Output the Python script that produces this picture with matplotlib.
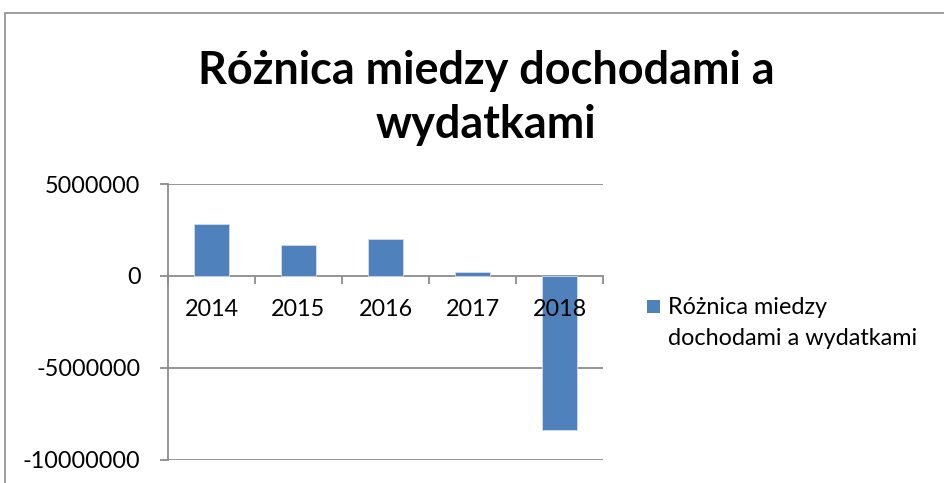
import matplotlib
matplotlib.use("Agg")
import matplotlib.pyplot as plt
from matplotlib.patches import Rectangle
import numpy as np

categories = ["2014", "2015", "2016", "2017", "2018"]
values = [2810000, 1700000, 2010000, 220000, -8370000]
series_name = "Różnica miedzy dochodami a wydatkami"
title = "Różnica miedzy dochodami a\nwydatkami"
yticks = [5000000, 0, -5000000, -10000000]

W, H = 945, 483
plt.rcParams['font.family'] = ['Lato', 'DejaVu Sans']
fig = plt.figure(figsize=(W/100, H/100), dpi=100)

# chart border
fig.patches.append(Rectangle((5/W, -0.1), 1.2, 1 - 13/H + 0.1, transform=fig.transFigure,
                             fill=False, edgecolor='#8c8c8c', linewidth=1.2))

ax = fig.add_axes([168/W, 1 - 459.5/H, (603-168)/W, (459.5-184)/H])
x = np.arange(len(categories))
ax.bar(x, values, width=0.4, color='#4F81BD', edgecolor='#d0dcec', linewidth=0.6, zorder=3,
       label=series_name)
ax.set_xlim(-0.5, len(categories) - 0.5)
ax.set_ylim(-10000000, 5000000)

gray = '#8c8c8c'
for s in ['top', 'right']:
    ax.spines[s].set_visible(False)
ax.spines['bottom'].set_position(('data', 0))
ax.spines['bottom'].set_color(gray)
ax.spines['left'].set_color(gray)
ax.spines['bottom'].set_linewidth(1.3)
ax.spines['left'].set_linewidth(1.3)

fs = 16.8
ax.set_yticks(yticks)
ax.set_yticklabels([str(v) for v in yticks], fontsize=fs)
ax.tick_params(axis='y', length=8*0.72, width=1.3, color=gray, pad=14)
for v in yticks:
    if v != 0:
        ax.axhline(v, color=gray, linewidth=1.3, zorder=1)

ax.set_xticks(x)
ax.set_xticklabels([''] * len(categories))
ax.tick_params(axis='x', which='major', length=0)
ax.set_xticks(np.arange(len(categories) + 1) - 0.5, minor=True)
ax.tick_params(axis='x', which='minor', length=8*0.72, width=1.3, color=gray, direction='out')
for xi, lab in zip(x, categories):
    ax.annotate(lab, xy=(xi, 0), xycoords='data', xytext=(0, -34*0.72), textcoords='offset points',
                ha='center', va='center', fontsize=fs, zorder=5, annotation_clip=False)

fig.text(486/W, 1 - 98/H, title, ha='center', va='center', fontsize=32.4, fontweight='bold',
         linespacing=1.38)

# legend
fig.patches.append(Rectangle((647/W, 1 - 313/H), 13/W, 13/H, transform=fig.transFigure,
                             facecolor='#4F81BD', edgecolor='none'))
fig.text(668/W, 1 - 323/H, "Różnica miedzy\ndochodami a wydatkami", ha='left', va='center',
         fontsize=fs, linespacing=1.6)

fig.savefig("out.png", dpi=100)
